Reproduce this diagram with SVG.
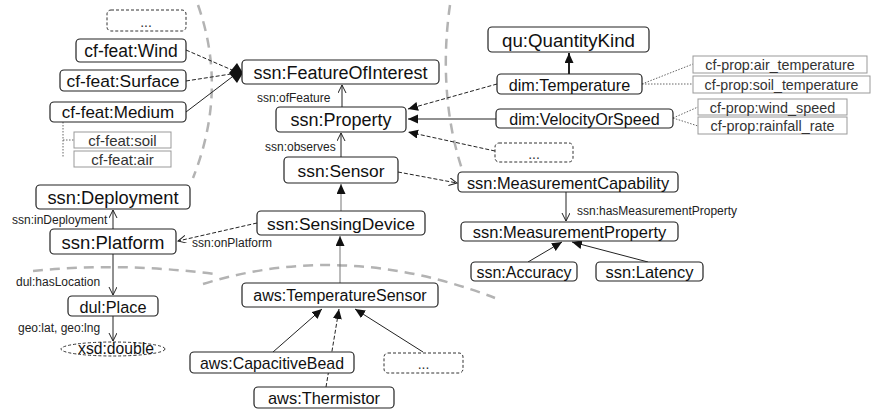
<svg xmlns="http://www.w3.org/2000/svg" width="871" height="409" viewBox="0 0 871 409">
<style>
.n{fill:#fff;stroke:#222;stroke-width:1.2}
.g{fill:#fff;stroke:#999;stroke-width:1}
.d{fill:#fff;stroke:#333;stroke-width:1;stroke-dasharray:3,2}
text{font-family:"Liberation Sans",Arial,sans-serif;fill:#111}
.t{text-anchor:middle;dominant-baseline:central}
.gt{fill:#333}
.l{font-size:12px;fill:#222}
.c{fill:none;stroke:#222;stroke-width:1}
.ds{stroke-dasharray:4,2}
.dot{fill:none;stroke:#666;stroke-width:1;stroke-dasharray:1.5,1.5}
.arc{fill:none;stroke:#b3b3b3;stroke-width:2.5;stroke-dasharray:10,7}
</style>
<defs>
<marker id="tri" markerUnits="userSpaceOnUse" markerWidth="11" markerHeight="10" refX="10" refY="4.5" orient="auto"><path d="M0,0 L10,4.5 L0,9 z" fill="#111"/></marker>
<marker id="open" markerUnits="userSpaceOnUse" markerWidth="10" markerHeight="10" refX="8" refY="4" orient="auto"><path d="M0,0 L8,4 L0,8" fill="none" stroke="#222" stroke-width="1"/></marker>
</defs>
<g id="boundaries">
<path class="arc" d="M198,5 Q228,90 193,178"/>
<path class="arc" d="M450,5 C442,60 445,120 463,172"/>
<path class="arc" d="M33,271 Q120,262 215,274"/>
<path class="arc" d="M203,284 Q345,240 495,298"/>
</g>
<g id="connectors">
<path class="c ds" d="M186,50 L232,70"/>
<path class="c ds" d="M186,81 L231,74"/>
<path class="c" d="M186,112 L232,77"/>
<path class="dot" d="M63,122 L63,158 M63,140 L74,140"/>
<path class="c" d="M342,107 L342,85" marker-end="url(#open)"/>
<path class="c" d="M341,157 L341,133" marker-end="url(#open)"/>
<path class="c" stroke="#777" style="stroke:#777" d="M341,211 L341,184" marker-end="url(#tri)"/>
<path class="c" style="stroke:#777" d="M340,283 L340,236" marker-end="url(#tri)"/>
<path class="c" d="M273,352 L322,309" marker-end="url(#tri)"/>
<path class="c ds" d="M326,387 L339,309" marker-end="url(#tri)"/>
<path class="c" d="M423,352 L355,309" marker-end="url(#tri)"/>
<path class="c" d="M113,229 L113,210" marker-end="url(#open)"/>
<path class="c ds" d="M257,223 L178,241" marker-end="url(#open)"/>
<path class="c" d="M113,254 L113,295" marker-end="url(#open)"/>
<path class="c" d="M113,316 L113,341" marker-end="url(#open)"/>
<path class="c" style="stroke-width:2" d="M569,74 L569,53" marker-end="url(#tri)"/>
<path class="c ds" d="M497,84 L408,109" marker-end="url(#tri)"/>
<path class="c" d="M496,119 L408,119" marker-end="url(#tri)"/>
<path class="c ds" d="M495,151 L408,132" marker-end="url(#tri)"/>
<path class="c ds" d="M398,172 L457,183" marker-end="url(#open)"/>
<path class="c" d="M566,192 L566,221" marker-end="url(#open)"/>
<path class="c" d="M528,262 L562,242" marker-end="url(#tri)"/>
<path class="c" d="M648,262 L572,242" marker-end="url(#tri)"/>
<path class="dot" d="M642,84 L693,64 M642,84 L693,84"/>
<path class="dot" d="M673,118 L698,107 M673,118 L698,126"/>
<polygon points="229,73 237,63 243,73 237,83" fill="#111"/>
<text class="l" x="257" y="102">ssn:ofFeature</text>
<text class="l" x="265" y="151">ssn:observes</text>
<text class="l" x="12" y="224">ssn:inDeployment</text>
<text class="l" x="192" y="247">ssn:onPlatform</text>
<text class="l" x="16" y="286">dul:hasLocation</text>
<text class="l" x="18" y="332">geo:lat, geo:lng</text>
<text class="l" x="577" y="215">ssn:hasMeasurementProperty</text>
</g>
<g id="feat-more"><rect class="d" x="107" y="10" width="79" height="21" rx="4"/><text x="146" y="27" class="gt" style="font-size:14px;text-anchor:middle">...</text></g>
<g id="feat-wind"><rect class="n" x="76" y="39" width="110" height="23" rx="4"/><text class="t" x="131" y="51" style="font-size:17.5px">cf-feat:Wind</text></g>
<g id="feat-surface"><rect class="n" x="60" y="70" width="126" height="21" rx="4"/><text class="t" x="123" y="81" style="font-size:17.4px">cf-feat:Surface</text></g>
<g id="feat-medium"><rect class="n" x="50" y="102" width="136" height="20" rx="4"/><text class="t" x="118" y="112.5" style="font-size:17px">cf-feat:Medium</text></g>
<g id="feat-soil"><rect class="g" x="74" y="132" width="97" height="16"/><text class="t gt" x="122.5" y="140.5" style="font-size:15px">cf-feat:soil</text></g>
<g id="feat-air"><rect class="g" x="74" y="151" width="97" height="16"/><text class="t gt" x="122.5" y="159.5" style="font-size:15px">cf-feat:air</text></g>
<g id="foi"><rect class="n" x="242" y="60" width="197" height="24" rx="4"/><text class="t" x="340.5" y="72.5" style="font-size:18px">ssn:FeatureOfInterest</text></g>
<g id="property"><rect class="n" x="276" y="107" width="130" height="25" rx="4"/><text class="t" x="341" y="120" style="font-size:18px">ssn:Property</text></g>
<g id="sensor"><rect class="n" x="284" y="157" width="114" height="26" rx="4"/><text class="t" x="341" y="170.5" style="font-size:17.4px">ssn:Sensor</text></g>
<g id="sensingdevice"><rect class="n" x="257" y="211" width="168" height="24" rx="4"/><text class="t" x="341" y="223.5" style="font-size:17.4px">ssn:SensingDevice</text></g>
<g id="tempsensor"><rect class="n" x="242" y="283" width="196" height="24" rx="4"/><text class="t" x="340" y="295.5" style="font-size:16px">aws:TemperatureSensor</text></g>
<g id="capbead"><rect class="n" x="190" y="352" width="164" height="21" rx="4"/><text class="t" x="272" y="363" style="font-size:15.9px">aws:CapacitiveBead</text></g>
<g id="thermistor"><rect class="n" x="254" y="387" width="140" height="21" rx="4"/><text class="t" x="324" y="398" style="font-size:16.4px">aws:Thermistor</text></g>
<g id="sensor-more"><rect class="d" x="384" y="353" width="79" height="20" rx="4"/><text x="423.5" y="369" class="gt" style="font-size:14px;text-anchor:middle">...</text></g>
<g id="deployment"><rect class="n" x="36" y="185" width="154" height="24" rx="4"/><text class="t" x="113" y="197.5" style="font-size:18.3px">ssn:Deployment</text></g>
<g id="platform"><rect class="n" x="50" y="229" width="126" height="25" rx="4"/><text class="t" x="113" y="242" style="font-size:18.5px">ssn:Platform</text></g>
<g id="place"><rect class="n" x="68" y="296" width="90" height="20" rx="4"/><text class="t" x="113" y="306.5" style="font-size:16.3px">dul:Place</text></g>
<g id="double"><ellipse cx="113" cy="349" rx="52" ry="7" fill="#fff" stroke="#333" stroke-width="1" stroke-dasharray="3,2"/><text x="116" y="354" style="font-size:15.7px;text-anchor:middle">xsd:double</text></g>
<g id="quantitykind"><rect class="n" x="488" y="27" width="161" height="25" rx="4"/><text class="t" x="568.5" y="40" style="font-size:18.7px">qu:QuantityKind</text></g>
<g id="temperature"><rect class="n" x="497" y="74" width="145" height="20" rx="4"/><text class="t" x="569.5" y="84.5" style="font-size:16.2px">dim:Temperature</text></g>
<g id="velocity"><rect class="n" x="496" y="109" width="177" height="19" rx="4"/><text class="t" x="584.5" y="119" style="font-size:16.1px">dim:VelocityOrSpeed</text></g>
<g id="prop-more"><rect class="d" x="495" y="143" width="78" height="19" rx="4"/><text x="534" y="159" class="gt" style="font-size:14px;text-anchor:middle">...</text></g>
<g id="meascap"><rect class="n" x="458" y="172" width="220" height="20" rx="4"/><text class="t" x="568" y="182.5" style="font-size:16.4px">ssn:MeasurementCapability</text></g>
<g id="measprop"><rect class="n" x="461" y="222" width="217" height="19" rx="4"/><text class="t" x="569.5" y="232" style="font-size:16.5px">ssn:MeasurementProperty</text></g>
<g id="accuracy"><rect class="n" x="471" y="262" width="106" height="19" rx="4"/><text class="t" x="524" y="272" style="font-size:16px">ssn:Accuracy</text></g>
<g id="latency"><rect class="n" x="596" y="262" width="107" height="19" rx="4"/><text class="t" x="649.5" y="272" style="font-size:16.5px">ssn:Latency</text></g>
<g id="prop-airtemp"><rect class="g" x="693" y="56" width="174" height="17"/><text class="t gt" x="780" y="65" style="font-size:14.3px">cf-prop:air_temperature</text></g>
<g id="prop-soiltemp"><rect class="g" x="693" y="76" width="177" height="17"/><text class="t gt" x="781.5" y="85" style="font-size:14.2px">cf-prop:soil_temperature</text></g>
<g id="prop-windspeed"><rect class="g" x="698" y="99" width="149" height="16"/><text class="t gt" x="772.5" y="107.5" style="font-size:14.4px">cf-prop:wind_speed</text></g>
<g id="prop-rainfall"><rect class="g" x="698" y="117" width="149" height="17"/><text class="t gt" x="772.5" y="126" style="font-size:14.4px">cf-prop:rainfall_rate</text></g>
</svg>
